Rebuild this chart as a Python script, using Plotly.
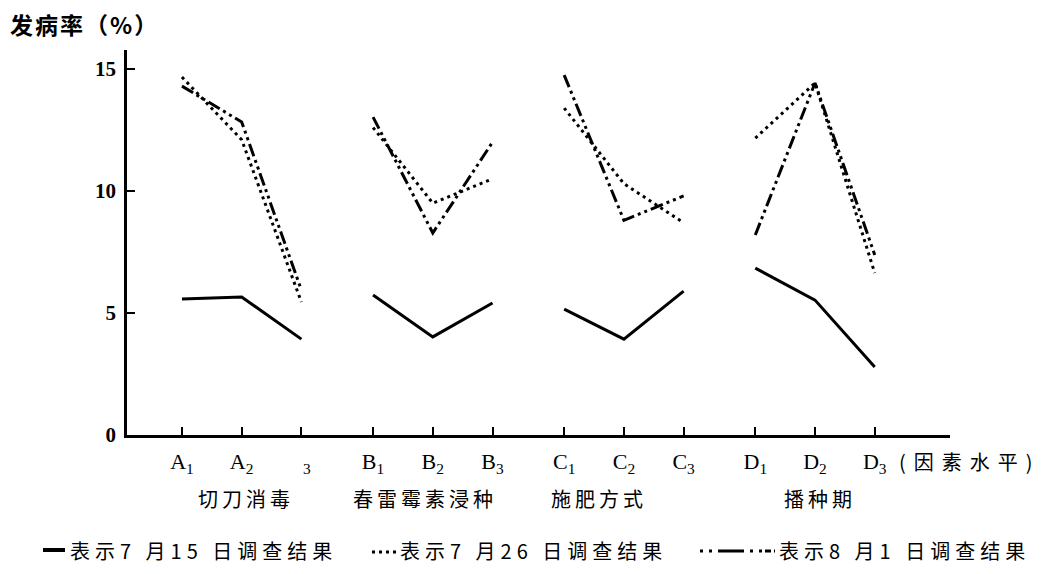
import plotly.graph_objects as go

# Factor levels, grouped by factor
groups = ["切刀消毒", "春雷霉素浸种", "施肥方式", "播种期"]
level_labels = [
    ["A<sub>1</sub>", "A<sub>2</sub>", "\u2002<sub>3</sub>"],
    ["B<sub>1</sub>", "B<sub>2</sub>", "B<sub>3</sub>"],
    ["C<sub>1</sub>", "C<sub>2</sub>", "C<sub>3</sub>"],
    ["D<sub>1</sub>", "D<sub>2</sub>", "D<sub>3</sub>"],
]

# Disease incidence (%) per factor level, one list per factor
jul15 = [[5.57, 5.66, 3.93], [5.74, 4.02, 5.41], [5.16, 3.93, 5.90], [6.84, 5.53, 2.79]]
jul26 = [[14.67, 12.1, 5.45], [12.6, 9.5, 10.5], [13.4, 10.3, 8.7], [12.17, 14.43, 6.64]]
aug01 = [[14.3, 12.83, 5.94], [13.03, 8.28, 12.0], [14.75, 8.8, 9.8], [8.2, 14.43, 7.38]]

series_names = ["表示7 月15 日调查结果", "表示7 月26 日调查结果", "表示8 月1 日调查结果"]

W, H = 1043, 574
ML, MR, MT, MB = 127, 93, 50, 139
PW, PH = W - ML - MR, H - MT - MB
GROUP_STEP = 3.2


def px_x(X):
    return (X - ML) / PW


def px_y(Y):
    return (H - MB - Y) / PH


def level_x(g, i):
    return g * GROUP_STEP + i


def spaced(text, px):
    return f'<span style="letter-spacing:{px}px">{text}</span>'


def build_xy(values):
    xs, ys = [], []
    for g, vals in enumerate(values):
        for i, v in enumerate(vals):
            xs.append(level_x(g, i))
            ys.append(v)
        xs.append(None)
        ys.append(None)
    return xs, ys


fig = go.Figure()
styles = [
    dict(color="black", width=3, dash="solid"),
    dict(color="black", width=3, dash="3px,4px"),
    dict(color="black", width=3, dash="13px,4px,3px,4px,3px,4px"),
]
for vals, name, st in zip([jul15, jul26, aug01], series_names, styles):
    xs, ys = build_xy(vals)
    fig.add_trace(go.Scatter(x=xs, y=ys, mode="lines", name=name, line=st,
                             connectgaps=False, showlegend=False))

tickvals = [level_x(g, i) for g in range(len(groups)) for i in range(3)]
ticktext = [t for lab in level_labels for t in lab]

serif = "Liberation Serif, DejaVu Serif, serif"
cjk = "Noto Sans CJK SC, sans-serif"

fig.update_layout(
    width=W, height=H, autosize=False,
    margin=dict(l=ML, r=MR, t=MT, b=MB),
    paper_bgcolor="white", plot_bgcolor="white",
    xaxis=dict(range=[-0.92, 12.86], showgrid=False, zeroline=False,
               showline=True, linecolor="black", linewidth=2.5,
               ticks="inside", ticklen=8, tickwidth=2, tickcolor="black",
               tickvals=tickvals, ticktext=ticktext,
               tickfont=dict(family=serif, size=22, color="black"),
               ticklabelstandoff=5),
    yaxis=dict(range=[0, 15.78], showgrid=False, zeroline=False,
               showline=True, linecolor="black", linewidth=2.5,
               ticks="inside", ticklen=8, tickwidth=2, tickcolor="black",
               tickvals=[0, 5, 10, 15], ticktext=["<b>0</b>", "<b>5</b>", "<b>10</b>", "<b>15</b>"],
               tickfont=dict(family=serif, size=21, color="black"),
               ticklabelstandoff=4),
)

ann = []
# y-axis title
ann.append(dict(text="<b>" + spaced("发病率（%）", 2) + "</b>", xref="paper", yref="paper",
                x=px_x(8), y=px_y(24), xanchor="left", yanchor="middle",
                showarrow=False, font=dict(family=cjk, size=23, color="black")))
# factor-level suffix after the last tick
ann.append(dict(text=spaced("(因素水平)", 8), xref="paper", yref="paper",
                x=px_x(897), y=px_y(462), xanchor="left", yanchor="middle",
                showarrow=False, font=dict(family=cjk, size=20, color="black")))
# factor names under each group
group_centres = [246, 425, 599, 820]
for g, name in enumerate(groups):
    ann.append(dict(text=spaced(name, 4), xref="paper", yref="paper",
                    x=px_x(group_centres[g]), y=px_y(498), xanchor="center", yanchor="middle",
                    showarrow=False, font=dict(family=cjk, size=20, color="black")))

# legend line
leg_text_x = [68, 398, 777]
for name, X in zip(series_names, leg_text_x):
    ann.append(dict(text=spaced(name, 5), xref="paper", yref="paper",
                    x=px_x(X), y=px_y(550), xanchor="left", yanchor="middle",
                    showarrow=False, font=dict(family=cjk, size=20, color="black")))
fig.update_layout(annotations=ann)

shapes = [
    dict(type="line", xref="paper", yref="paper", x0=px_x(43), x1=px_x(65),
         y0=px_y(550), y1=px_y(550), line=dict(color="black", width=4)),
    dict(type="line", xref="paper", yref="paper", x0=px_x(372), x1=px_x(396),
         y0=px_y(552), y1=px_y(552), line=dict(color="black", width=3, dash="3px,4px")),
    dict(type="line", xref="paper", yref="paper", x0=px_x(700), x1=px_x(775),
         y0=px_y(551), y1=px_y(551),
         line=dict(color="black", width=3, dash="3px,6px,3px,6px,26px,6px,3px,6px,3px")),
]
fig.update_layout(shapes=shapes)

fig.write_html("out.html")
